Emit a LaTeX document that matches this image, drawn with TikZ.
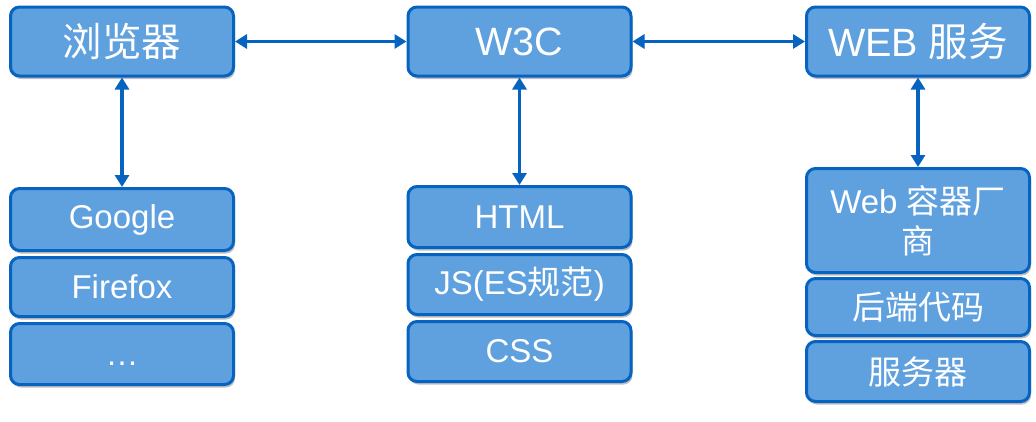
\documentclass[tikz,border=0pt]{standalone}
\usepackage{fontspec}
\setmainfont{Liberation Sans}
\newfontfamily\cjk{Noto Sans CJK SC}
\usetikzlibrary{arrows.meta,shadows}
\definecolor{boxfill}{RGB}{95,160,222}
\definecolor{boxline}{RGB}{6,99,192}
\tikzset{
  box/.style={draw=boxline, fill=boxfill, line width=3pt, rounded corners=9pt,
    text=white, align=center, inner sep=0pt,
    drop shadow={shadow xshift=1.5pt, shadow yshift=-3pt, opacity=0.25, fill=black}},
  topbox/.style={box, minimum width=223pt, minimum height=69pt, font=\fontsize{39.5}{42}\selectfont},
  subbox/.style={box, minimum width=223pt, font=\fontsize{33}{40}\selectfont},
  link/.style={draw=boxline, line width=3.6pt,
    {Triangle[length=12pt,width=14pt]}-{Triangle[length=12pt,width=14pt]}}
}
\begin{document}
\begin{tikzpicture}[x=1pt,y=-1pt]
\useasboundingbox (0,0) rectangle (1036,421);
% top row
\node[topbox] (browser) at (122,41.5) {\cjk 浏览器};
\node[topbox] (w3c) at (519.5,41.5) {W3C};
\node[topbox] (web) at (918,41.5) {WEB {\cjk 服务}};
% left column
\node[subbox, minimum height=62pt] (google) at (122,219.5) {Google};
\node[subbox, minimum height=59pt] (firefox) at (122,287) {Firefox};
\node[subbox, minimum height=61pt] (dots) at (122,354) {\smash{\raisebox{-11pt}{…}}};
% middle column
\node[subbox, minimum height=61pt] (html) at (519.5,217) {HTML};
\node[subbox, minimum height=60pt] (js) at (519.5,284.5) {JS(ES{\cjk 规范})};
\node[subbox, minimum height=60pt] (css) at (519.5,351.5) {CSS};
% right column
\node[subbox, minimum height=104pt] (container) at (918,220.5) {Web {\cjk 容器厂}\\{\cjk 商}};
\node[subbox, minimum height=57pt] (backend) at (918,307) {\cjk 后端代码};
\node[subbox, minimum height=60pt] (server) at (918,371.5) {\cjk 服务器};
% connectors
\draw[link] (browser) -- (w3c);
\draw[link] (w3c) -- (web);
\draw[link] (browser) -- (google);
\draw[link] (w3c) -- (html);
\draw[link] (web) -- (container);
\end{tikzpicture}
\end{document}
